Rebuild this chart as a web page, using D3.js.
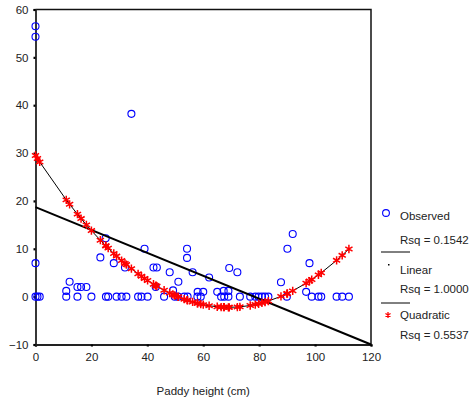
<!DOCTYPE html>
<html>
<head>
<meta charset="utf-8">
<script src="https://cdn.jsdelivr.net/npm/d3@7"></script>
<style>
  body { margin: 0; background: #fff; }
  text { font-family: Arial, "Liberation Sans", sans-serif; font-size: 11.5px; fill: #222; }
</style>
</head>
<body>
<div id="chart-area"></div>
<script>
// observed points (paddy height, value)
const OBS_X = [0, 0, 0, 0, 0.7, 1.5,
  11, 11, 12.2, 15, 16.3, 18.2, 15, 20, 25.2, 26, 29, 30.8, 32.5, 23.2, 28, 32, 25.1, 34.3,
  36.7, 37.9, 40.1, 39, 42.2, 43.4, 43, 46, 48, 49.2, 49.8, 51, 51.1, 53.2, 54.4, 54.2, 54.2,
  56.2, 58, 60, 57.9, 59.1, 62.1, 65, 66.4, 67.5, 67.3, 69, 69, 69.3, 72.2, 73.1, 76.8, 78.6,
  79.8, 81, 82.1, 83.3, 87.8, 89.9, 90.1, 92, 96.8, 98, 98.8, 101.2, 102.2, 107.7, 109.7, 112.1]
const OBS_Y = [56.5, 54.3, 7, 0, 0, 0,
  0, 1.2, 3.1, 2, 2, 2, 0, 0, 0, 0, 0, 0, 0, 8.2, 7, 6.1, 12.2, 38.2,
  0, 0, 0, 10, 6.1, 6.1, 2, 0, 5.1, 1.3, 0, 0, 3.1, 0, 0, 10, 8.1,
  5.1, 1, 1, 0, 0, 4, 1, 0, 0, 1.2, 1.2, 0, 6, 5.1, 0, 0, 0,
  0, 0, 0, 0, 3, 0, 10, 13.1, 1, 7, 0, 0, 0, 0, 0, 0]

// quadratic fitted values at the observed heights
const QUAD_X = [0, 0.7, 1.5, 11, 12.2, 15, 16.3, 18.2, 20, 23.2, 25.1, 25.2, 26, 28, 29, 30.8,
  32, 32.5, 34.3, 36.7, 37.9, 39, 40.1, 42.2, 43, 43.4, 46, 48, 49.2, 49.8, 51, 51.1, 53.2,
  54.2, 54.4, 56.2, 57.9, 58, 59.1, 60, 62.1, 65, 66.4, 67.3, 67.5, 69, 69.3, 72.2, 73.1,
  76.8, 78.6, 79.8, 81, 82.1, 83.3, 87.8, 89.9, 90.1, 92, 96.8, 98, 98.8, 101.2, 102.2,
  107.7, 109.7, 112.1]
const QUAD_Y = [29.5, 28.86, 28.14, 20.22, 19.3, 17.24, 16.31, 15.0, 13.81, 11.79, 10.66, 10.6,
  10.14, 9.02, 8.48, 7.54, 6.94, 6.7, 5.84, 4.77, 4.26, 3.81, 3.38, 2.6, 2.32, 2.18, 1.34,
  0.75, 0.42, 0.26, -0.04, -0.06, -0.53, -0.74, -0.78, -1.11, -1.38, -1.4, -1.56, -1.67,
  -1.9, -2.11, -2.18, -2.21, -2.21, -2.23, -2.23, -2.17, -2.13, -1.85, -1.65, -1.49, -1.31,
  -1.13, -0.92, 0.06, 0.61, 0.66, 1.21, 2.81, 3.26, 3.57, 4.55, 4.98, 7.59, 8.63, 9.96]

// linear fit end points
const LIN_X = [0, 120]
const LIN_Y = [18.7, -10]

const X_TICKS = [0, 20, 40, 60, 80, 100, 120]
const Y_TICKS = [-10, 0, 10, 20, 30, 40, 50, 60]
const X_TITLE = "Paddy height (cm)"
const LEGEND = ["Observed", "Rsq = 0.1542", "Linear", "Rsq = 1.0000", "Quadratic", "Rsq = 0.5537"]

const SVG_WIDTH = 474
const SVG_HEIGHT = 402
const MARGIN = { left: 35.5, right: 103, top: 9.5, bottom: 57.5 }
const G_WIDTH = SVG_WIDTH - MARGIN.left - MARGIN.right
const G_HEIGHT = SVG_HEIGHT - MARGIN.top - MARGIN.bottom

const svg = d3.select("#chart-area").append("svg")
  .attr("width", SVG_WIDTH)
  .attr("height", SVG_HEIGHT)

const g = svg.append("g")
  .attr("transform", `translate(${MARGIN.left}, ${MARGIN.top})`)

const x = d3.scaleLinear().domain([0, 120]).range([0, G_WIDTH])
const y = d3.scaleLinear().domain([-10, 60]).range([G_HEIGHT, 0])

// frame top + right
g.append("path")
  .attr("d", `M0,0H${G_WIDTH}V${G_HEIGHT}`)
  .attr("fill", "none")
  .attr("stroke", "#111")
  .attr("stroke-width", 1.5)

const xAxis = g.append("g")
  .attr("transform", `translate(0, ${G_HEIGHT})`)
  .call(d3.axisBottom(x).tickValues(X_TICKS).tickSize(2).tickPadding(5).tickFormat(d3.format("d")))
const yAxis = g.append("g")
  .call(d3.axisLeft(y).tickValues(Y_TICKS).tickSize(2).tickPadding(5).tickFormat(d3.format("d")))

for (const ax of [xAxis, yAxis]) {
  ax.select(".domain").attr("stroke", "#222").attr("stroke-width", 1.8)
  ax.selectAll(".tick line").attr("stroke", "#000").attr("stroke-width", 2.2)
  ax.selectAll(".tick text").attr("font-size", "12px").attr("fill", "#222")
    .attr("font-family", "Arial, 'Liberation Sans', sans-serif")
}
xAxis.selectAll(".tick text").attr("dy", "0.85em")

svg.append("text")
  .attr("x", MARGIN.left + G_WIDTH / 2)
  .attr("y", 395)
  .attr("text-anchor", "middle")
  .attr("font-size", "12px")
  .text(X_TITLE)

// observed
const obs = OBS_X.map((v, i) => ({ x: v, y: OBS_Y[i] }))
g.selectAll("circle.obs")
  .data(obs)
  .enter().append("circle")
  .attr("class", "obs")
  .attr("cx", d => x(d.x))
  .attr("cy", d => y(d.y))
  .attr("r", 3.5)
  .attr("fill", "none")
  .attr("stroke", "#0000ff")
  .attr("stroke-width", 1.1)

// linear fit
const lin = LIN_X.map((v, i) => ({ x: v, y: LIN_Y[i] }))
g.append("path")
  .datum(lin)
  .attr("d", d3.line().x(d => x(d.x)).y(d => y(d.y)))
  .attr("fill", "none")
  .attr("stroke", "#000")
  .attr("stroke-width", 2)

// quadratic fit
const quad = QUAD_X.map((v, i) => ({ x: v, y: QUAD_Y[i] }))
g.append("path")
  .datum(quad)
  .attr("d", d3.line().x(d => x(d.x)).y(d => y(d.y)))
  .attr("fill", "none")
  .attr("stroke", "#000")
  .attr("stroke-width", 1)

const star = d3.symbol().type(d3.symbolAsterisk).size(48)
g.selectAll("path.quad")
  .data(quad)
  .enter().append("path")
  .attr("class", "quad")
  .attr("transform", d => `translate(${x(d.x)}, ${y(d.y)})`)
  .attr("d", star)
  .attr("fill", "none")
  .attr("stroke", "#ff0000")
  .attr("stroke-width", 1.5)

// legend
const lg = svg.append("g")
const LX = 400
const rows = [220, 244, 274, 293, 319, 339]
LEGEND.forEach((t, i) => {
  lg.append("text").attr("x", LX).attr("y", rows[i]).text(t)
})
lg.append("circle").attr("cx", 386).attr("cy", 213).attr("r", 3.4)
  .attr("fill", "none").attr("stroke", "#0000ff").attr("stroke-width", 1.1)
lg.append("line").attr("x1", 381).attr("x2", 410).attr("y1", 252).attr("y2", 252)
  .attr("stroke", "#000").attr("stroke-width", 1)
lg.append("rect").attr("x", 388).attr("y", 264).attr("width", 1.5).attr("height", 1.5).attr("fill", "#000")
lg.append("line").attr("x1", 381).attr("x2", 410).attr("y1", 303).attr("y2", 303)
  .attr("stroke", "#000").attr("stroke-width", 1)
lg.append("path").attr("transform", "translate(388, 315)")
  .attr("d", d3.symbol().type(d3.symbolAsterisk).size(24))
  .attr("fill", "none").attr("stroke", "#ff0000").attr("stroke-width", 1.3)
</script>
</body>
</html>
